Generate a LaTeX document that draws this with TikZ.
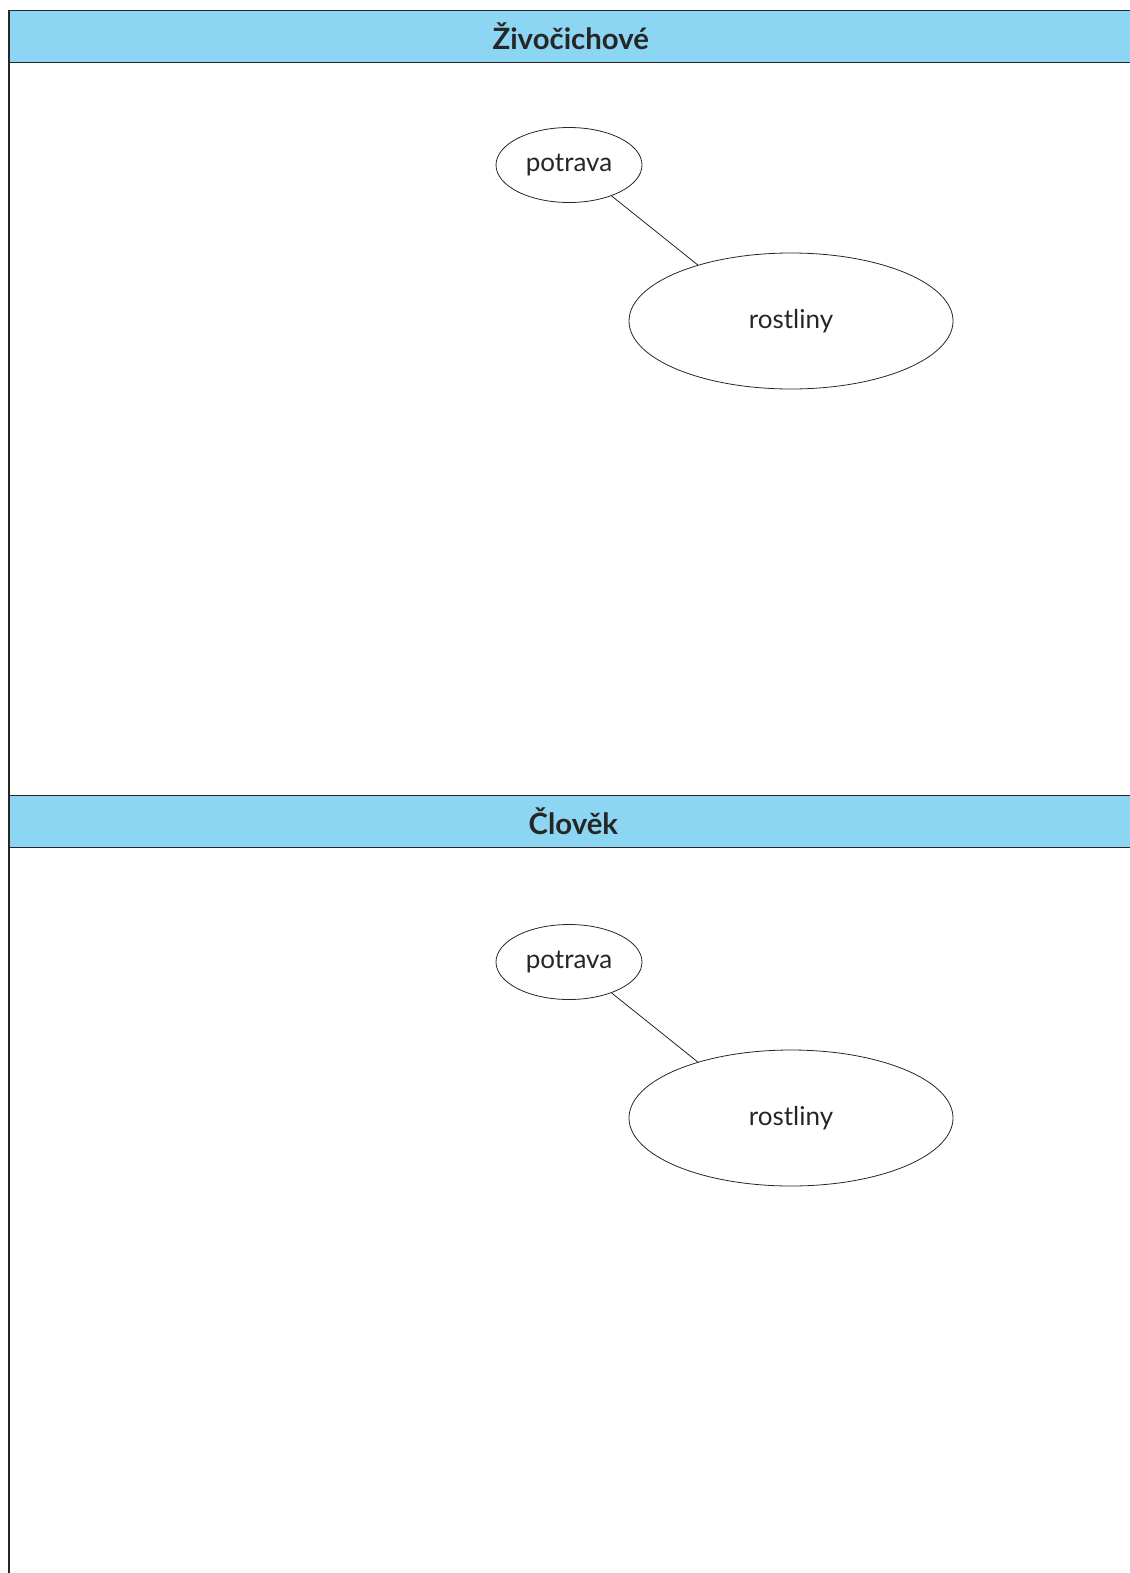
\documentclass[tikz,border=0pt]{standalone}
\usepackage{fontspec}
\setmainfont{Lato}
\usetikzlibrary{shapes.geometric}
\definecolor{headblue}{HTML}{8DD6F3}
\begin{document}
\begin{tikzpicture}[
       x=0.75pt, y=-0.75pt,
       header/.style={rectangle, draw=black!85, line width=0.8pt, fill=headblue, minimum width=1125*0.75pt, minimum height=52*0.75pt, anchor=north west, inner sep=0pt, font=\fontsize{22}{26}\selectfont\bfseries, text=black!85},
       small/.style={ellipse, draw=black!85, line width=0.6pt, minimum width=146*0.75pt, minimum height=75*0.75pt, inner sep=0pt, font=\fontsize{19.5}{23}\selectfont, text=black!85},
       big/.style={ellipse, draw=black!85, line width=0.6pt, minimum width=324*0.75pt, minimum height=136*0.75pt, inner sep=0pt, font=\fontsize{19.5}{23}\selectfont, text=black!85},
       link/.style={-, line width=0.6pt, black!85}
   ]
   \useasboundingbox (0,0) rectangle (1130,1573);
   \draw[line width=0.8pt, black!85] (9,10) -- (9,1573);
   \node[header] (zivocichove) at (9,10) {\makebox[0pt]{\hspace*{-2pt}Živočichové}};
   \node[header] (clovek) at (9,795) {\makebox[0pt]{\hspace*{2pt}Člověk}};

   \node[small] (potrava1) at (569,165) {potrava};
   \node[big] (rostliny1) at (791,321) {rostliny};
   \node[small] (potrava2) at (569,962) {potrava};
   \node[big] (rostliny2) at (791,1118) {rostliny};

   \draw[link] (potrava1.-36) -- (rostliny1.149);
   \draw[link] (potrava2.-36) -- (rostliny2.149);
\end{tikzpicture}
\end{document}
